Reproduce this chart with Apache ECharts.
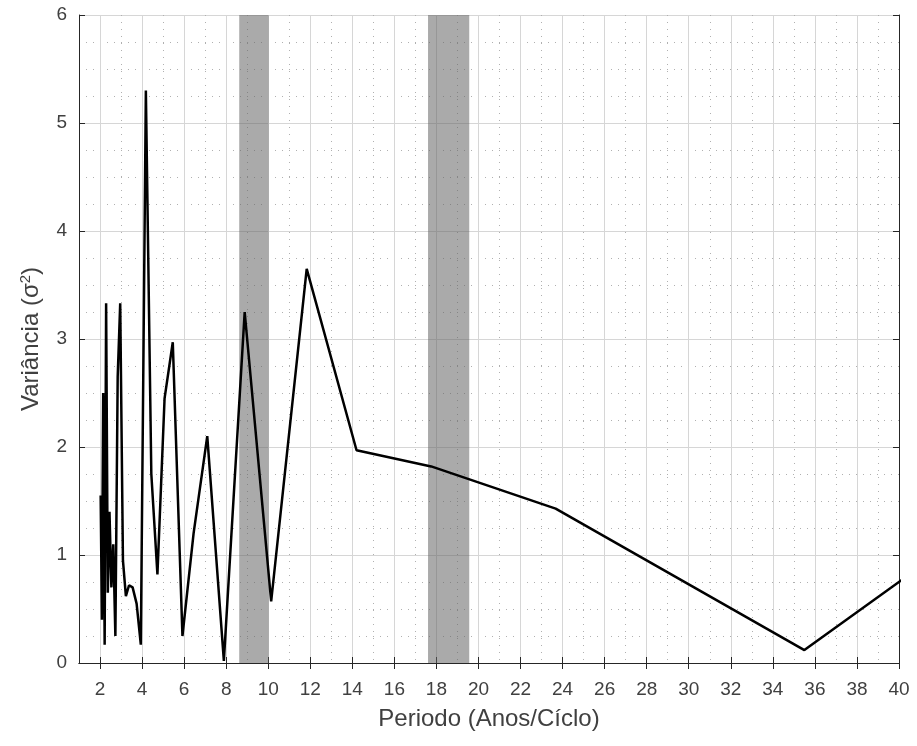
<!DOCTYPE html>
<html>
<head>
<meta charset="UTF-8">
<title>Variância por período</title>
<script src="https://cdn.jsdelivr.net/npm/echarts@6/dist/echarts.min.js"></script>
<style>
  html, body { margin: 0; padding: 0; background: #fff; }
  #main { width: 917px; height: 746px; }
</style>
</head>
<body>
<div id="main"></div>
<script>
// periodos (anos/ciclo) e variancia
var periodos = [2.03, 2.09, 2.15, 2.22, 2.29, 2.37, 2.45, 2.54, 2.63, 2.73,
                2.84, 2.96, 3.09, 3.23, 3.38, 3.55, 3.74, 3.94, 4.18, 4.44,
                4.73, 5.07, 5.46, 5.92, 6.45, 7.10, 7.89, 8.88, 10.14, 11.83,
                14.20, 17.75, 23.67, 35.50, 71.00];
var variancia = [1.55, 0.40, 2.50, 0.17, 3.33, 0.65, 1.40, 0.70, 1.10, 0.25,
                 2.65, 3.33, 0.95, 0.62, 0.72, 0.70, 0.55, 0.17, 5.30, 1.75,
                 0.82, 2.45, 2.97, 0.25, 1.20, 2.10, 0.02, 3.25, 0.57, 3.65,
                 1.97, 1.82, 1.43, 0.12, 5.10];
// faixas cinzas
var faixas = [[8.62, 10.02], [17.60, 19.56]];
var ticksX = [2, 4, 6, 8, 10, 12, 14, 16, 18, 20, 22, 24, 26, 28, 30, 32, 34, 36, 38, 40];
var gradeMenorX = [3, 5, 7, 9, 11, 13, 15, 17, 19, 21, 23, 25, 27, 29, 31, 33, 35, 37, 39];

var chart = echarts.init(document.getElementById('main'));
var fonte = '"Liberation Sans", Arial, Helvetica, sans-serif';
var corEixo = '#262626';
var corTexto = '#404040';
var corGrade = '#d6d6d6';
var corPontos = '#b0b0b0';

var dados = periodos.map(function (p, i) { return [p, variancia[i]]; });
var areas = faixas.map(function (f) { return [{ xAxis: f[0] }, { xAxis: f[1] }]; });

var option = {
  animation: false,
  backgroundColor: '#fff',
  textStyle: { fontFamily: fonte },
  grid: { left: 79, right: 18, top: 15, bottom: 83 },
  xAxis: [
    {
      type: 'value', position: 'bottom', min: 1, max: 40, interval: 1,
      name: 'Periodo (Anos/Cíclo)', nameLocation: 'middle', nameGap: 44,
      nameTextStyle: { fontSize: 24, color: corTexto, fontFamily: fonte },
      axisLine: { show: true, lineStyle: { color: corEixo, width: 1 } },
      axisTick: { show: true, inside: true, length: 6, customValues: ticksX, lineStyle: { color: corEixo } },
      axisLabel: { customValues: ticksX, margin: 17, fontSize: 19, color: corTexto, fontFamily: fonte },
      splitLine: { show: true, lineStyle: { color: corGrade, width: 1 } }
    },
    {
      type: 'value', position: 'top', min: 1, max: 40, interval: 1,
      axisLine: { show: true, lineStyle: { color: corEixo, width: 1 } },
      axisTick: { show: true, inside: true, length: 6, customValues: ticksX, lineStyle: { color: corEixo } },
      axisLabel: { show: false },
      splitLine: { show: false }
    },
    {
      // grade pontilhada nos impares
      type: 'value', position: 'top', min: 1, max: 40, interval: 1,
      axisLine: { show: false },
      axisTick: { show: false, customValues: gradeMenorX },
      axisLabel: { show: false },
      splitLine: { show: true, lineStyle: { color: corPontos, width: 1, type: [1, 6] } }
    }
  ],
  yAxis: [
    {
      type: 'value', position: 'left', min: 0, max: 6, interval: 1,
      name: 'Variância (σ{sup|2})', nameLocation: 'middle', nameGap: 34, nameRotate: 90,
      nameTextStyle: {
        fontSize: 24, color: corTexto, fontFamily: fonte,
        rich: { sup: { fontSize: 15, color: corTexto, verticalAlign: 'top', padding: [0, 0, 12, 0] } }
      },
      axisLine: { show: true, lineStyle: { color: corEixo, width: 1 } },
      axisTick: { show: true, inside: true, length: 6, lineStyle: { color: corEixo } },
      axisLabel: { margin: 12, fontSize: 19, color: corTexto, fontFamily: fonte },
      splitLine: { show: true, lineStyle: { color: corGrade, width: 1 } },
      minorTick: { show: false, splitNumber: 4 },
      minorSplitLine: { show: true, lineStyle: { color: corPontos, width: 1, type: [1, 6] } }
    },
    {
      type: 'value', position: 'right', min: 0, max: 6, interval: 1,
      axisLine: { show: true, lineStyle: { color: corEixo, width: 1 } },
      axisTick: { show: true, inside: true, length: 6, lineStyle: { color: corEixo } },
      axisLabel: { show: false },
      splitLine: { show: false }
    }
  ],
  series: [
    {
      type: 'line',
      xAxisIndex: 0,
      yAxisIndex: 0,
      data: dados,
      showSymbol: false,
      clip: true,
      lineStyle: { color: '#000', width: 2.5 },
      markArea: {
        silent: true,
        itemStyle: { color: 'rgba(100,100,100,0.55)' },
        data: areas
      }
    }
  ]
};
chart.setOption(option);
</script>
</body>
</html>
